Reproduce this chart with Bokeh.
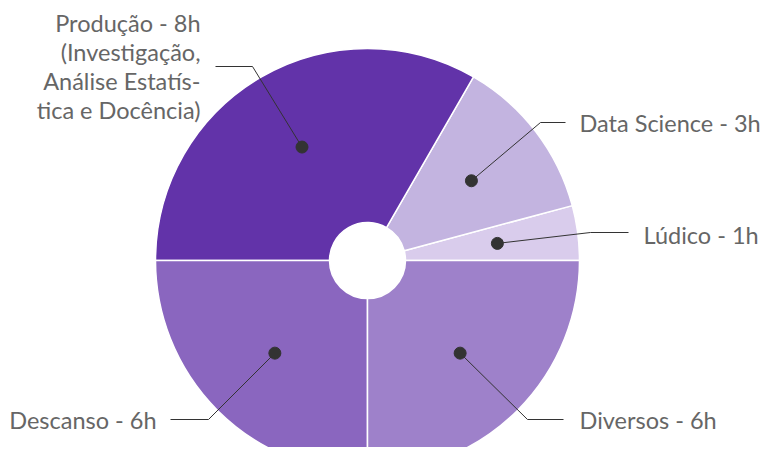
import math
from bokeh.plotting import figure
from bokeh.models import Range1d
from bokeh.core.properties import value
from bokeh.embed import file_html
from bokeh.resources import INLINE

# ---- data (counter-clockwise from 3 o'clock) ----
categories = ["Lúdico", "Data Science", "Produção", "Descanso", "Diversos"]
hours = [1, 3, 8, 6, 6]
labels = [
    "Lúdico - 1h",
    "Data Science - 3h",
    "Produção - 8h\n(Investigação,\nAnálise Estatís-\ntica e Docência)",
    "Descanso - 6h",
    "Diversos - 6h",
]
colors = ["#d9ccec", "#c3b4e0", "#6233a9", "#8a66bf", "#9e81ca"]

# ---- layout (pixel coordinates, y down) ----
CX, CY = 367, 260
R_OUT, R_IN, R_DOT = 212, 38, 131
FONT = 23.5
LINE_GAP = 28.7
# elbow point, end of horizontal leader, text anchor x, text align, text y offset
leaders = [
    ((590, 232), (628, 232), 643, "left", 2),
    ((540, 122), (565, 122), 579, "left", 0),
    ((252, 66), (215, 66), 200, "right", 0),
    ((208, 419), (170, 419), 156, "right", 0),
    ((527, 419), (563, 419), 579, "left", 0),
]

W, H = 763, 447

p = figure(width=W, height=H, output_backend="svg", toolbar_location=None,
           x_range=Range1d(0, W), y_range=Range1d(-H, 0),
           min_border=0, outline_line_color=None)
p.axis.visible = False
p.grid.visible = False
p.background_fill_color = "white"
p.border_fill_color = "white"

total = sum(hours)
starts, ends, mids = [], [], []
acc = 0
for h in hours:
    a0 = acc / total * 2 * math.pi
    acc += h
    a1 = acc / total * 2 * math.pi
    starts.append(a0)
    ends.append(a1)
    mids.append((a0 + a1) / 2)

p.annular_wedge(x=CX, y=-CY, inner_radius=R_IN, outer_radius=R_OUT,
                start_angle=starts, end_angle=ends, fill_color=colors,
                line_color="white", line_width=1.5)

dot_x = [CX + R_DOT * math.cos(m) for m in mids]
dot_y = [-CY + R_DOT * math.sin(m) for m in mids]

for i, (elbow, end, tx, align, dy) in enumerate(leaders):
    p.line([dot_x[i], elbow[0], end[0]], [dot_y[i], -elbow[1], -end[1]],
           line_color="#333333", line_width=1)
    lines = labels[i].split("\n")
    n = len(lines)
    ys = [-(end[1] + dy + (k - (n - 1) / 2) * LINE_GAP) for k in range(n)]
    p.text(x=[tx] * n, y=ys, text=lines, text_align=align,
           text_baseline="middle", text_font=value("Lato"),
           text_font_size=f"{FONT}px", text_color="#666666")

p.scatter(dot_x, dot_y, size=12, fill_color="#333333", line_color="#333333")

open("out.html", "w").write(file_html(p, INLINE))
